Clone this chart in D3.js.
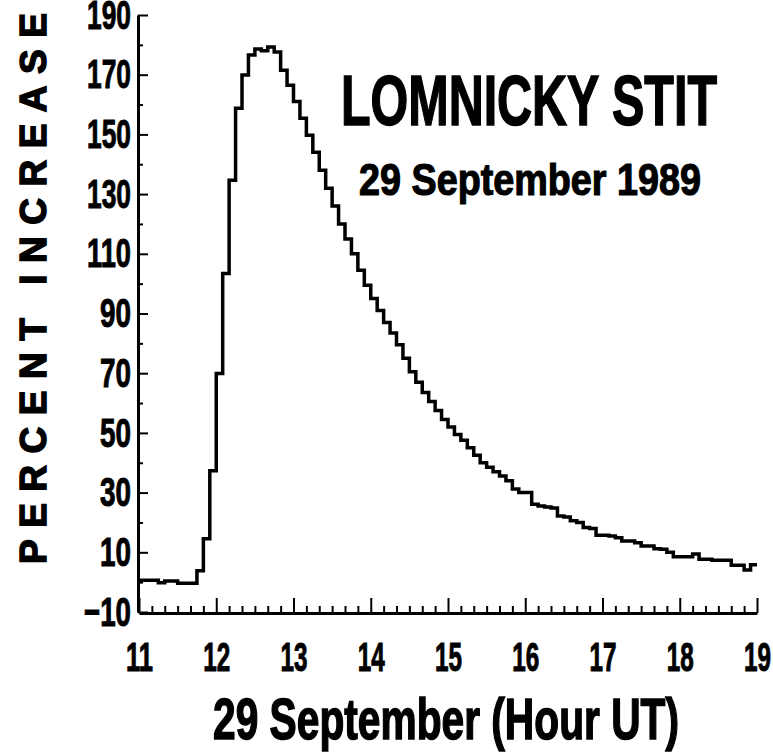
<!DOCTYPE html>
<html>
<head>
<meta charset="utf-8">
<script src="https://cdn.jsdelivr.net/npm/d3@7"></script>
<style>
  body { margin: 0; background: #fff; }
  text { font-family: "Liberation Sans", Arial, sans-serif; font-weight: bold; fill: #000; stroke: #000; }
</style>
</head>
<body>
<div id="chart"></div>
<script>
// neutron monitor, 5 minute values starting 11:00 UT
const startHour = 11;
const stepMinutes = 5;
const percentIncrease = [
  0.6, 0.6, 0.6, -0.2, 0.4, 0.4, -0.4, -0.4, -0.4, 3.8,
  14.5, 37.3, 69.9, 103.4, 134.6, 158.8, 169.9, 176.6, 178.6, 178,
  179.3, 177.6, 171.5, 166.5, 161, 155.4, 149.7, 144, 138, 132,
  126, 120, 115, 110, 104.5, 99.5, 95, 91, 87, 83.5,
  79.5, 75, 70.5, 67, 63.5, 60.5, 57.5, 54.5, 52, 49.5,
  47.5, 45, 42.5, 40, 38.5, 37, 35.6, 34, 31.2, 30,
  30, 26.1, 25.5, 25.2, 24.8, 22.2, 21.8, 20.6, 20, 18.3,
  18, 15.7, 15.7, 15.5, 14.9, 13.8, 13.8, 13.2, 12.1, 12.1,
  11.2, 11, 10, 8.5, 8.5, 8.5, 9.4, 7.7, 7.7, 7.3,
  7.3, 7.3, 5.7, 5.7, 4.1, 5.8
];
const hourTicks = [11, 12, 13, 14, 15, 16, 17, 18, 19];
const percentTicks = [-10, 10, 30, 50, 70, 90, 110, 130, 150, 170, 190];
const percentMinor = [0, 20, 40, 60, 80, 100, 120, 140, 160, 180];
const titleText = "LOMNICKY STIT";
const subtitleText = "29 September 1989";
const xTitle = "29 September (Hour UT)";
const yTitle = "PERCENT INCREASE";

const width = 773, height = 752;

const svg = d3.select("#chart").append("svg")
  .attr("width", width)
  .attr("height", height);

const x = d3.scaleLinear().domain([11, 19]).range([139, 757]);
const y = d3.scaleLinear().domain([-10, 190]).range([612, 15]);

// points for the step line, plus the closing edge at 19:00
const pts = percentIncrease.map((v, i) => ({ h: startHour + i * stepMinutes / 60, v: v }));
pts.push({ h: 19, v: percentIncrease[percentIncrease.length - 1] });

// y axis
const yAxis = svg.append("g").attr("transform", "translate(138,0)")
  .call(d3.axisLeft(y).tickValues(percentTicks).tickSizeInner(-10).tickSizeOuter(0).tickPadding(7));
yAxis.select(".domain").attr("stroke-width", 3);
yAxis.selectAll(".tick line").attr("stroke-width", 2);
yAxis.selectAll(".tick text")
  .attr("font-size", 41)
  .attr("stroke-width", 1)
  .attr("textLength", d => d < 0 ? 47 : (d >= 100 ? 44 : 31))
  .attr("lengthAdjust", "spacingAndGlyphs");

svg.append("g").attr("transform", "translate(138,0)")
  .call(d3.axisLeft(y).tickValues(percentMinor).tickSizeInner(-5).tickSizeOuter(0).tickFormat(""))
  .call(g => g.select(".domain").remove())
  .selectAll(".tick line").attr("stroke-width", 2);

// x axis
const xAxis = svg.append("g").attr("transform", "translate(0,613)")
  .call(d3.axisBottom(x).tickValues(hourTicks).tickSizeInner(-15).tickSizeOuter(0).tickPadding(30));
xAxis.select(".domain").attr("stroke-width", 3);
xAxis.selectAll(".tick line").attr("stroke-width", 2);
xAxis.selectAll(".tick text")
  .attr("font-size", 40)
  .attr("stroke-width", 1)
  .attr("textLength", 27)
  .attr("lengthAdjust", "spacingAndGlyphs");

const minorHours = d3.range(0, 49).map(i => 11 + i / 6).filter((h, i) => i % 6 !== 0);
svg.append("g").attr("transform", "translate(0,613)")
  .call(d3.axisBottom(x).tickValues(minorHours).tickSizeInner(-7).tickSizeOuter(0).tickFormat(""))
  .call(g => g.select(".domain").remove())
  .selectAll(".tick line").attr("stroke-width", 2);

// the curve
svg.append("path")
  .datum(pts)
  .attr("fill", "none")
  .attr("stroke", "#000")
  .attr("stroke-width", 3.5)
  .attr("stroke-linejoin", "miter")
  .attr("d", d3.line().curve(d3.curveStepAfter)
    .x(d => x(d.h))
    .y(d => y(d.v)));

// titles
svg.append("text")
  .attr("x", 529).attr("y", 125)
  .attr("text-anchor", "middle")
  .attr("font-size", 70)
  .attr("stroke-width", 1.5)
  .attr("textLength", 376).attr("lengthAdjust", "spacingAndGlyphs")
  .text(titleText);

svg.append("text")
  .attr("x", 530).attr("y", 195)
  .attr("text-anchor", "middle")
  .attr("font-size", 44)
  .attr("stroke-width", 1.2)
  .attr("textLength", 342).attr("lengthAdjust", "spacingAndGlyphs")
  .text(subtitleText);

svg.append("text")
  .attr("x", 446).attr("y", 739)
  .attr("text-anchor", "middle")
  .attr("font-size", 57)
  .attr("stroke-width", 1.5)
  .attr("textLength", 466).attr("lengthAdjust", "spacingAndGlyphs")
  .text(xTitle);

svg.append("text")
  .attr("transform", "translate(46,564) rotate(-90)")
  .attr("text-anchor", "start")
  .attr("font-size", 37)
  .attr("stroke-width", 1.5)
  .attr("textLength", 551).attr("lengthAdjust", "spacing")
  .text(yTitle);
</script>
</body>
</html>
